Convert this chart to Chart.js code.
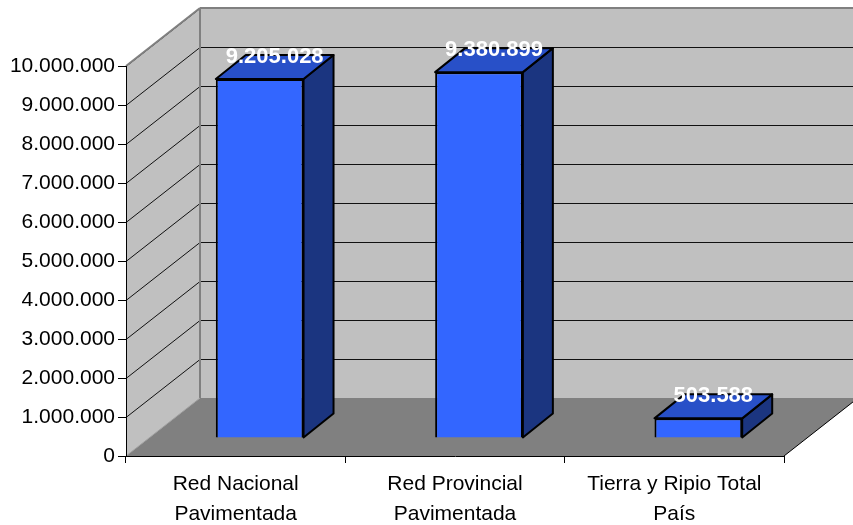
<!DOCTYPE html>
<html>
<head>
<meta charset="utf-8">
<script src="https://cdn.jsdelivr.net/npm/chart.js@4"></script>
<style>
  html, body { margin: 0; padding: 0; background: #fff; }
  #wrap { width: 853px; height: 525px; position: relative; }
</style>
</head>
<body>
<div id="wrap"><canvas id="chart"></canvas></div>
<script>
// Data
const categories = [
    ['Red Nacional', 'Pavimentada'],
    ['Red Provincial', 'Pavimentada'],
    ['Tierra y Ripio Total', 'País']
];
const values = [9205028, 9380899, 503588];
const yMax = 10000000;
const yStep = 1000000;

// 3D look (oblique projection offsets)
const FLOOR_DX = 74, FLOOR_DY = -58;     // full depth of the floor
const BAR_DX = 24, BAR_DY = -18;         // where the bar front plane sits
const BAR_DEPTH_DX = 30, BAR_DEPTH_DY = -24;

const FONT = '"Liberation Sans", Arial, sans-serif';

function formatNumber(v) {
    return Math.round(v).toString().replace(/\B(?=(\d{3})+(?!\d))/g, '.');
}

function poly(ctx, pts, fill, stroke, width) {
    ctx.beginPath();
    ctx.moveTo(pts[0][0], pts[0][1]);
    for (let i = 1; i < pts.length; i++) ctx.lineTo(pts[i][0], pts[i][1]);
    ctx.closePath();
    if (fill) { ctx.fillStyle = fill; ctx.fill(); }
    if (stroke) { ctx.strokeStyle = stroke; ctx.lineWidth = width || 1; ctx.stroke(); }
}

function line(ctx, x1, y1, x2, y2, color, width) {
    ctx.beginPath();
    ctx.moveTo(x1, y1);
    ctx.lineTo(x2, y2);
    ctx.strokeStyle = color;
    ctx.lineWidth = width;
    ctx.stroke();
}

const walls3d = {
    id: 'walls3d',
    beforeDraw(chart) {
        const { ctx, chartArea: a, scales: { y } } = chart;
        const bx = a.left + FLOOR_DX, rx = a.right + FLOOR_DX;
        const top = a.top + FLOOR_DY, bot = a.bottom + FLOOR_DY;
        ctx.save();
        // left wall
        poly(ctx, [[a.left, a.bottom], [a.left, a.top], [bx, top], [bx, bot]], '#C0C0C0');
        // back wall
        poly(ctx, [[bx, top], [rx, top], [rx, bot], [bx, bot]], '#C0C0C0');
        // floor
        poly(ctx, [[a.left, a.bottom], [a.right, a.bottom], [rx, bot], [bx, bot]], '#808080');

        // gridlines on both walls
        y.ticks.forEach(t => {
            if (t.value === 0) return;
            const py = Math.round(y.getPixelForValue(t.value)) + 0.5;
            ctx.beginPath();
            ctx.moveTo(a.left, py);
            ctx.lineTo(bx, py + FLOOR_DY);
            ctx.lineTo(rx, py + FLOOR_DY);
            ctx.strokeStyle = '#111';
            ctx.lineWidth = 1;
            ctx.stroke();
        });

        // wall edges
        line(ctx, a.left, a.top, bx, top, '#808080', 2);
        line(ctx, bx, top, rx, top, '#808080', 2);
        line(ctx, bx, top, bx, bot, '#808080', 2);
        line(ctx, a.left, a.bottom, bx, bot, '#A0A0A0', 1);
        line(ctx, a.right, a.bottom, rx, bot, '#000', 1);
        ctx.restore();
    },
    beforeDatasetsDraw(chart) {
        chart.ctx.save();
        chart.ctx.translate(BAR_DX, BAR_DY);
    },
    afterDatasetsDraw(chart) {
        const ctx = chart.ctx;
        const meta = chart.getDatasetMeta(0);
        meta.data.forEach((bar, i) => {
            const p = bar.getProps(['x', 'y', 'base', 'width'], true);
            const x1 = p.x - p.width / 2, x2 = p.x + p.width / 2;
            const t = p.y, b = p.base;
            ctx.lineJoin = 'round';
            // side face
            poly(ctx, [[x2, t], [x2 + BAR_DEPTH_DX, t + BAR_DEPTH_DY],
                       [x2 + BAR_DEPTH_DX, b + BAR_DEPTH_DY], [x2, b]], '#1B3580', '#000', 2);
            // top face
            poly(ctx, [[x1, t], [x1 + BAR_DEPTH_DX, t + BAR_DEPTH_DY],
                       [x2 + BAR_DEPTH_DX, t + BAR_DEPTH_DY], [x2, t]], '#2850C8', '#000', 2);
            // value label
            ctx.fillStyle = '#fff';
            ctx.font = 'bold 22px ' + FONT;
            ctx.textAlign = 'center';
            ctx.textBaseline = 'middle';
            ctx.fillText(formatNumber(values[i]), p.x + BAR_DEPTH_DX / 2, t + BAR_DEPTH_DY + 2);
        });
        ctx.restore();
    }
};

new Chart(document.getElementById('chart'), {
    type: 'bar',
    data: {
        labels: categories,
        datasets: [{
            data: values,
            backgroundColor: '#3366FF',
            borderColor: '#000',
            borderWidth: 2,
            categoryPercentage: 1,
            barPercentage: 0.4,
            clip: false
        }]
    },
    options: {
        responsive: true,
        maintainAspectRatio: false,
        animation: false,
        layout: { padding: { top: 66, right: 69, left: 0, bottom: 0 } },
        plugins: {
            legend: { display: false },
            tooltip: { enabled: false }
        },
        scales: {
            x: {
                grid: { drawOnChartArea: false, color: '#000', tickLength: 7, offset: true },
                border: { color: '#000', width: 1 },
                ticks: {
                    color: '#000',
                    font: { family: FONT, size: 21, lineHeight: 1.45 },
                    padding: 6,
                    maxRotation: 0,
                    autoSkip: false
                },
                afterFit(scale) { scale.height = 69; }
            },
            y: {
                min: 0,
                max: yMax,
                grid: { drawOnChartArea: false, color: '#000', tickLength: 8 },
                border: { color: '#000', width: 1 },
                ticks: {
                    stepSize: yStep,
                    color: '#000',
                    font: { family: FONT, size: 21 },
                    padding: 3,
                    callback: v => formatNumber(v)
                },
                afterFit(scale) { scale.width = 126; }
            }
        }
    },
    plugins: [walls3d]
});
</script>
</body>
</html>
